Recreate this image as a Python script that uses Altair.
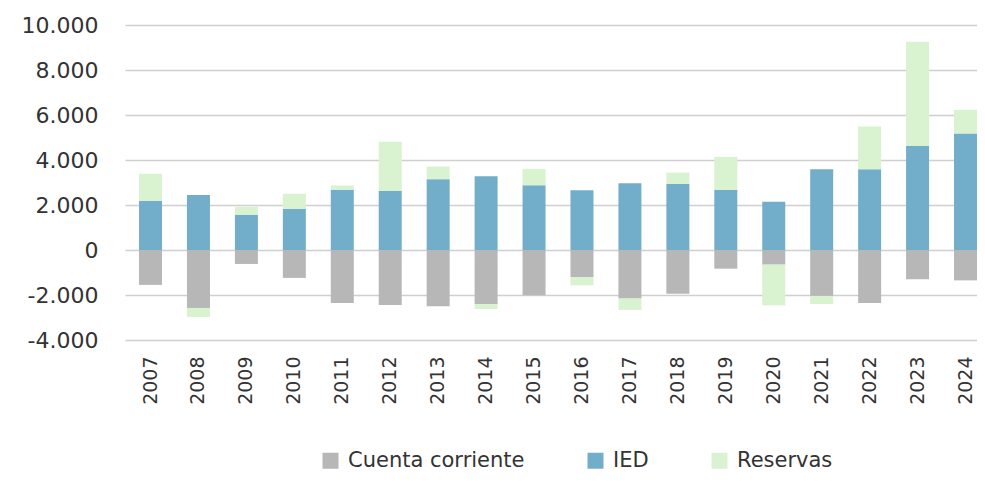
import altair as alt
import pandas as pd

years = [str(y) for y in range(2007, 2025)]
cuenta_corriente = [-1550, -2575, -620, -1240, -2350, -2440, -2500, -2410, -2010,
                    -1200, -2160, -1940, -830, -650, -2040, -2350, -1300, -1350]
ied = [2190, 2440, 1570, 1830, 2680, 2620, 3150, 3280, 2880,
       2660, 2970, 2940, 2680, 2140, 3590, 3590, 4620, 5180]
reservas = [1200, -400, 350, 670, 190, 2190, 560, -210, 730,
            -370, -500, 500, 1460, -1810, -360, 1900, 4640, 1050]

series = ["Cuenta corriente", "IED", "Reservas"]
colors = ["#b7b7b7", "#72aeca", "#d9f2d0"]

rows = []
for i, y in enumerate(years):
    for k, (name, vals) in enumerate(zip(series, [cuenta_corriente, ied, reservas])):
        rows.append({"year": y, "serie": name, "valor": vals[i], "orden": k})
df = pd.DataFrame(rows)

label_expr = "replace(replace(format(datum.value, ',d'), ',', '.'), '\u2212', '-')"

chart = alt.Chart(df).mark_bar(size=23).encode(
    x=alt.X("year:N", sort=years, title=None,
            scale=alt.Scale(paddingInner=0.9, paddingOuter=0.4195, align=0.575),
            axis=alt.Axis(labelAngle=270, labelFont="DejaVu Sans", labelFontSize=19,
                          labelColor="#333333", labelPadding=16, ticks=False,
                          domain=False, grid=False)),
    y=alt.Y("valor:Q", stack="zero", title=None,
            scale=alt.Scale(domain=[-4000, 10000], nice=False, zero=True),
            axis=alt.Axis(values=list(range(-4000, 10001, 2000)), labelExpr=label_expr,
                          labelFont="DejaVu Sans", labelFontSize=22, labelColor="#333333",
                          labelPadding=27, ticks=False, domain=False,
                          gridColor="#d0d0d0", gridWidth=1.3)),
    color=alt.Color("serie:N", sort=series,
                    scale=alt.Scale(domain=series, range=colors),
                    legend=alt.Legend(title=None, orient="none", direction="horizontal",
                                      legendX=195, legendY=425,
                                      symbolType="square", symbolSize=256,
                                      symbolStrokeWidth=0, labelLimit=0,
                                      labelFont="DejaVu Sans", labelFontSize=21,
                                      labelColor="#333333", columnPadding=60,
                                      labelOffset=7)),
    order=alt.Order("orden:Q"),
).properties(
    width=860, height=315,
    autosize=alt.AutoSizeParams(type="none"),
    padding={"left": 117, "top": 17, "right": -8, "bottom": 133},
).configure(background="white").configure_view(stroke=None)

chart.save("out.html", embed_options={"renderer": "svg", "actions": False})
